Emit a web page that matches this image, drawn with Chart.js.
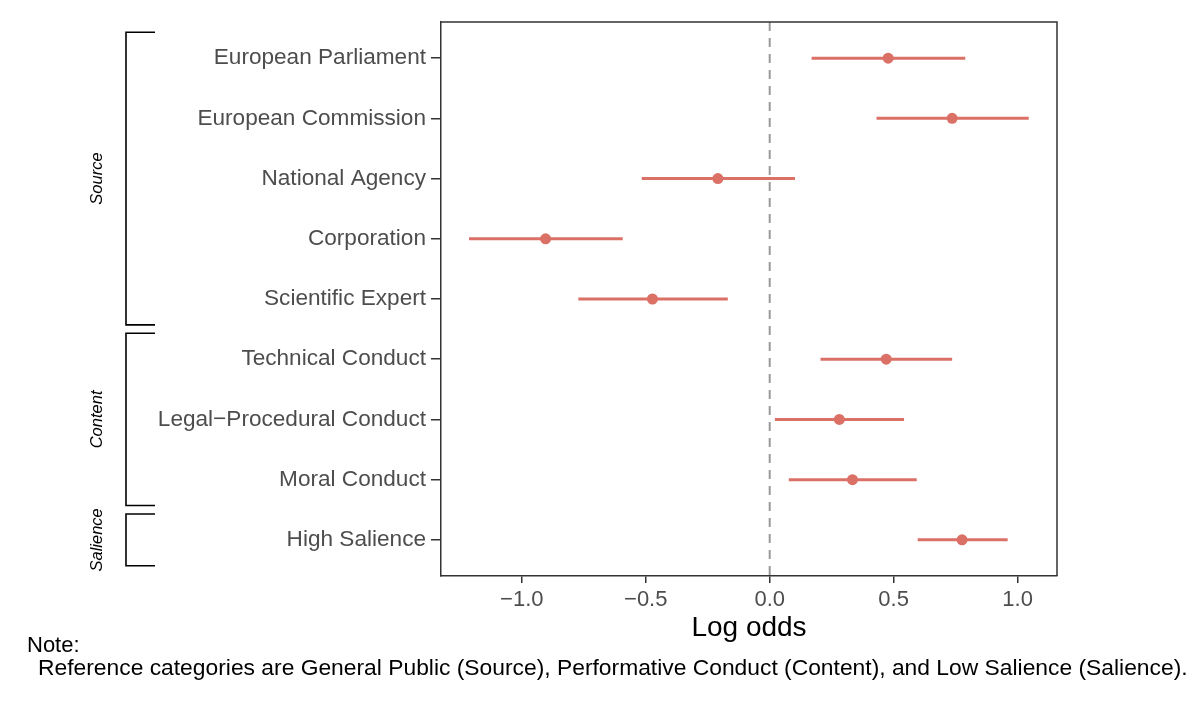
<!DOCTYPE html>
<html>
<head>
<meta charset="utf-8">
<script src="https://cdn.jsdelivr.net/npm/chart.js@4.4.1/dist/chart.umd.min.js"></script>
<style>
  html, body { margin: 0; padding: 0; background: #fff; }
  #wrap { width: 1200px; height: 703px; position: relative; }
</style>
</head>
<body>
<div id="wrap"><canvas id="myChart"></canvas></div>
<script>
const categories = [
  'European Parliament',
  'European Commission',
  'National Agency',
  'Corporation',
  'Scientific Expert',
  'Technical Conduct',
  'Legal\u2212Procedural Conduct',
  'Moral Conduct',
  'High Salience'
];
const estimates = [0.478, 0.736, -0.209, -0.904, -0.473, 0.470, 0.281, 0.334, 0.776];
const lower     = [0.169, 0.431, -0.516, -1.213, -0.772, 0.205, 0.021, 0.077, 0.597];
const upper     = [0.789, 1.045, 0.102, -0.593, -0.169, 0.736, 0.542, 0.593, 0.960];

// groups of rows (first and last index into categories)
const groupNames = ['Source', 'Content', 'Salience'];
const groupFirst = [0, 5, 8];
const groupLast  = [4, 7, 8];

const xTicks = [-1.0, -0.5, 0.0, 0.5, 1.0];
const xMin = -1.326, xMax = 1.159;
const yMin = 0.4, yMax = 9.6;

const noteTitle = 'Note:';
const noteText = 'Reference categories are General Public (Source), Performative Conduct (Content), and Low Salience (Salience).';

const red = '#DB7066';
const fontFamily = '"Liberation Sans", Arial, Helvetica, sans-serif';

const datasets = [];
datasets.push({
  type: 'line',
  data: [{ x: 0, y: yMin }, { x: 0, y: yMax }],
  borderColor: '#999999',
  borderWidth: 2,
  borderDash: [9, 7],
  pointRadius: 0,
  order: 3
});
categories.forEach((c, i) => {
  datasets.push({
    type: 'line',
    data: [{ x: lower[i], y: i + 1 }, { x: upper[i], y: i + 1 }],
    borderColor: red,
    borderWidth: 3,
    pointRadius: 0,
    order: 2
  });
});
datasets.push({
  type: 'scatter',
  data: categories.map((c, i) => ({ x: estimates[i], y: i + 1 })),
  backgroundColor: red,
  borderColor: red,
  pointRadius: 5.5,
  borderWidth: 0,
  order: 1
});

const extras = {
  id: 'extras',
  afterDraw(chart) {
    const ctx = chart.ctx;
    const area = chart.chartArea;
    const ys = chart.scales.y;
    ctx.save();
    // panel border top / right
    ctx.strokeStyle = '#333333';
    ctx.lineWidth = 1.5;
    ctx.beginPath();
    ctx.moveTo(area.left, area.top);
    ctx.lineTo(area.right, area.top);
    ctx.lineTo(area.right, area.bottom);
    ctx.stroke();

    // group brackets
    ctx.strokeStyle = '#000000';
    ctx.lineWidth = 1.6;
    const bx = 126, bx2 = 155;
    groupNames.forEach((g, k) => {
      const y0 = ys.getPixelForValue(groupFirst[k] + 1 - 0.43);
      const y1 = ys.getPixelForValue(groupLast[k] + 1 + 0.43);
      ctx.beginPath();
      ctx.moveTo(bx2, y0);
      ctx.lineTo(bx, y0);
      ctx.lineTo(bx, y1);
      ctx.lineTo(bx2, y1);
      ctx.stroke();
      ctx.save();
      ctx.translate(97, (y0 + y1) / 2);
      ctx.rotate(-Math.PI / 2);
      ctx.fillStyle = '#000000';
      ctx.font = 'italic 16.5px ' + fontFamily;
      ctx.textAlign = 'center';
      ctx.textBaseline = 'middle';
      ctx.fillText(g, 0, 0);
      ctx.restore();
    });

    // note
    ctx.fillStyle = '#000000';
    ctx.textAlign = 'left';
    ctx.textBaseline = 'alphabetic';
    ctx.font = '22px ' + fontFamily;
    ctx.fillText(noteTitle, 27, 652);
    const w = ctx.measureText(noteText).width;
    const size = 22 * 1150 / w;
    ctx.font = size.toFixed(2) + 'px ' + fontFamily;
    ctx.fillText(noteText, 38, 675);
    ctx.restore();
  }
};

new Chart(document.getElementById('myChart'), {
  type: 'scatter',
  data: { datasets },
  plugins: [extras],
  options: {
    responsive: true,
    maintainAspectRatio: false,
    animation: false,
    layout: { padding: { left: 0, right: 143, top: 22, bottom: 54 } },
    plugins: {
      legend: { display: false },
      tooltip: { enabled: false }
    },
    scales: {
      x: {
        type: 'linear',
        min: xMin,
        max: xMax,
        afterBuildTicks: (scale) => { scale.ticks = xTicks.map(v => ({ value: v })); },
        afterFit: (scale) => { scale.height = 73; },
        ticks: {
          callback: (v) => (v < 0 ? '\u2212' : '') + Math.abs(v).toFixed(1),
          font: { family: fontFamily, size: 22 },
          color: '#4d4d4d',
          padding: 4,
          maxRotation: 0
        },
        grid: { drawOnChartArea: false, tickLength: 7, color: '#333333', lineWidth: 1.5 },
        border: { color: '#333333', width: 1.5 },
        title: {
          display: true,
          text: 'Log odds',
          font: { family: fontFamily, size: 28 },
          color: '#000000'
        }
      },
      y: {
        type: 'linear',
        min: yMin,
        max: yMax,
        reverse: true,
        afterBuildTicks: (scale) => { scale.ticks = categories.map((c, i) => ({ value: i + 1 })); },
        afterFit: (scale) => { scale.width = 441; },
        ticks: {
          callback: (v) => categories[v - 1],
          font: { family: fontFamily, size: 22.6 },
          color: '#4d4d4d',
          padding: 5
        },
        grid: { drawOnChartArea: false, tickLength: 10, color: '#333333', lineWidth: 1.5 },
        border: { color: '#333333', width: 1.5 }
      }
    }
  }
});
</script>
</body>
</html>
